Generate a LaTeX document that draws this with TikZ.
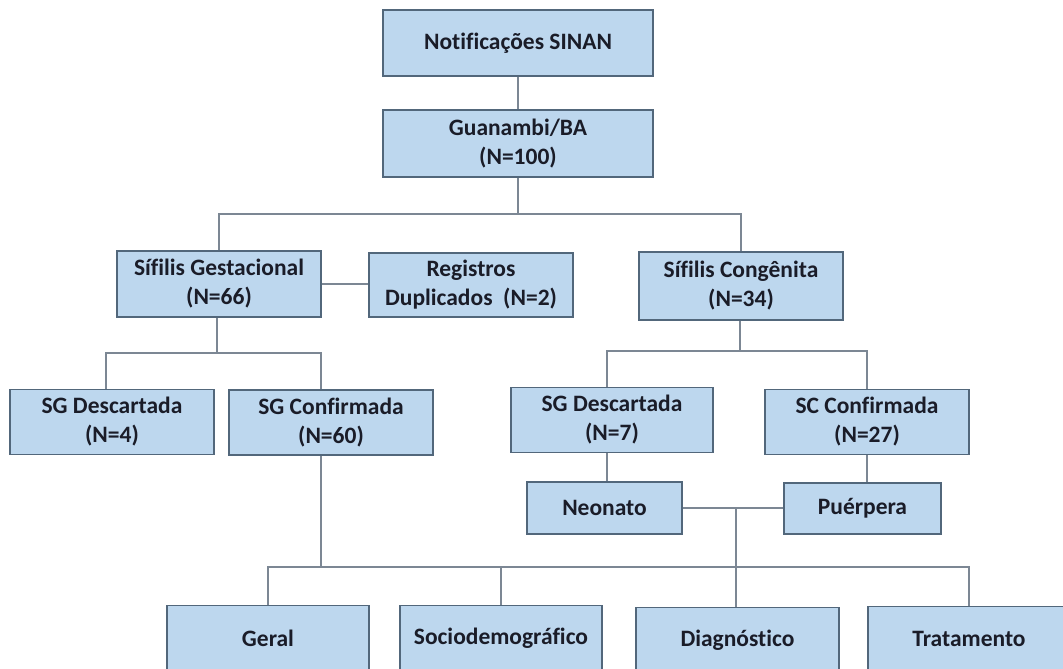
\documentclass[tikz,border=0pt]{standalone}
\usepackage{fontspec}
\setmainfont{Carlito}[Ligatures=NoCommon]
\usetikzlibrary{calc}
\definecolor{boxfill}{HTML}{BDD7EE}
\definecolor{boxline}{HTML}{52677B}
\definecolor{linkline}{HTML}{7C8794}
\definecolor{txt}{HTML}{1A1C28}
\tikzset{
  box/.style={draw=boxline, fill=boxfill, line width=1.3pt, inner sep=0pt,
    align=center, text=txt, font=\fontsize{23.5}{29}\selectfont\bfseries,
    minimum width=204pt, minimum height=65pt},
  link/.style={draw=linkline, line width=1.4pt}
}
\begin{document}
\begin{tikzpicture}[x=1pt, y=-1pt]
\useasboundingbox (0,0) rectangle (1063,669);
\clip (0,0) rectangle (1063,669);
\fill[white] (0,0) rectangle (1063,669);

% top of the tree
\node[box, minimum width=270pt, minimum height=66pt] (notif) at (518,43) {Notificações SINAN};
\node[box, minimum width=270pt, minimum height=67pt] (guan) at (518,143.5) {Guanambi/BA\\(N=100)};

% second level
\node[box, minimum height=66pt] (sgest) at (219,284) {Sífilis Gestacional\\(N=66)};
\node[box, minimum height=64pt] (regdup) at (471,285) {Registros\\Duplicados~ (N=2)};
\node[box, minimum height=68pt] (scong) at (741,286) {Sífilis Congênita\\(N=34)};

% third level
\node[box] (sgdl) at (112,422) {SG Descartada\\(N=4)};
\node[box] (sgconf) at (331,422.5) {SG Confirmada\\(N=60)};
\node[box, minimum width=202pt] (sgdr) at (612,420) {SG Descartada\\(N=7)};
\node[box] (scconf) at (867,422) {SC Confirmada\\(N=27)};

% neonate / puerpera
\node[box, minimum width=155pt, minimum height=52pt] (neo) at (604.5,508) {Neonato};
\node[box, minimum width=157pt, minimum height=51pt] (puer) at (862.5,508.5) {Puérpera};

% bottom row
\node[box, minimum width=202pt] (geral) at (268,638) {Geral};
\node[box, minimum width=202pt] (socio) at (501,638) {Sociodemográfico};
\node[box, minimum width=203pt] (diag) at (737.5,640) {Diagnóstico};
\node[box, minimum width=202pt] (trat) at (969,639) {Tratamento};

% branch levels
\coordinate (lvA) at (0,214);
\coordinate (lvB) at (0,353);
\coordinate (lvC) at (0,351);
\coordinate (lvD) at (0,567);

% connectors
\draw[link] (notif.south) -- (guan.north);
\draw[link] (guan.south) -- (guan.south |- lvA);
\draw[link] (sgest.north) |- (scong.north |- lvA) -- (scong.north);
\draw[link] (sgest.east) -- (sgest.east -| regdup.west);

\draw[link] ([xshift=-2pt]sgest.south) -- ([xshift=-2pt]sgest.south |- lvB);
\draw[link] ([xshift=-6pt]sgdl.north) |- ([xshift=-10pt]sgconf.north |- lvB) -- ([xshift=-10pt]sgconf.north);

\draw[link] ([xshift=-1pt]scong.south) -- ([xshift=-1pt]scong.south |- lvC);
\draw[link] ([xshift=-5pt]sgdr.north) |- (scconf.north |- lvC) -- (scconf.north);

\draw[link] ([xshift=-5pt]sgdr.south) -- ([xshift=-5pt]sgdr.south |- neo.north);
\draw[link] (scconf.south) -- (scconf.south |- puer.north);
\draw[link] (neo.east) -- (neo.east -| puer.west);
\coordinate (np) at ($(neo.east)!0.53!(neo.east -| puer.west)$);
\draw[link] (np) -- (np |- diag.north);

\draw[link] ([xshift=-10pt]sgconf.south) -- ([xshift=-10pt]sgconf.south |- lvD);
\draw[link] (geral.north) |- (trat.north |- lvD) -- (trat.north);
\draw[link] (socio.north) -- (socio.north |- lvD);
\end{tikzpicture}
\end{document}
